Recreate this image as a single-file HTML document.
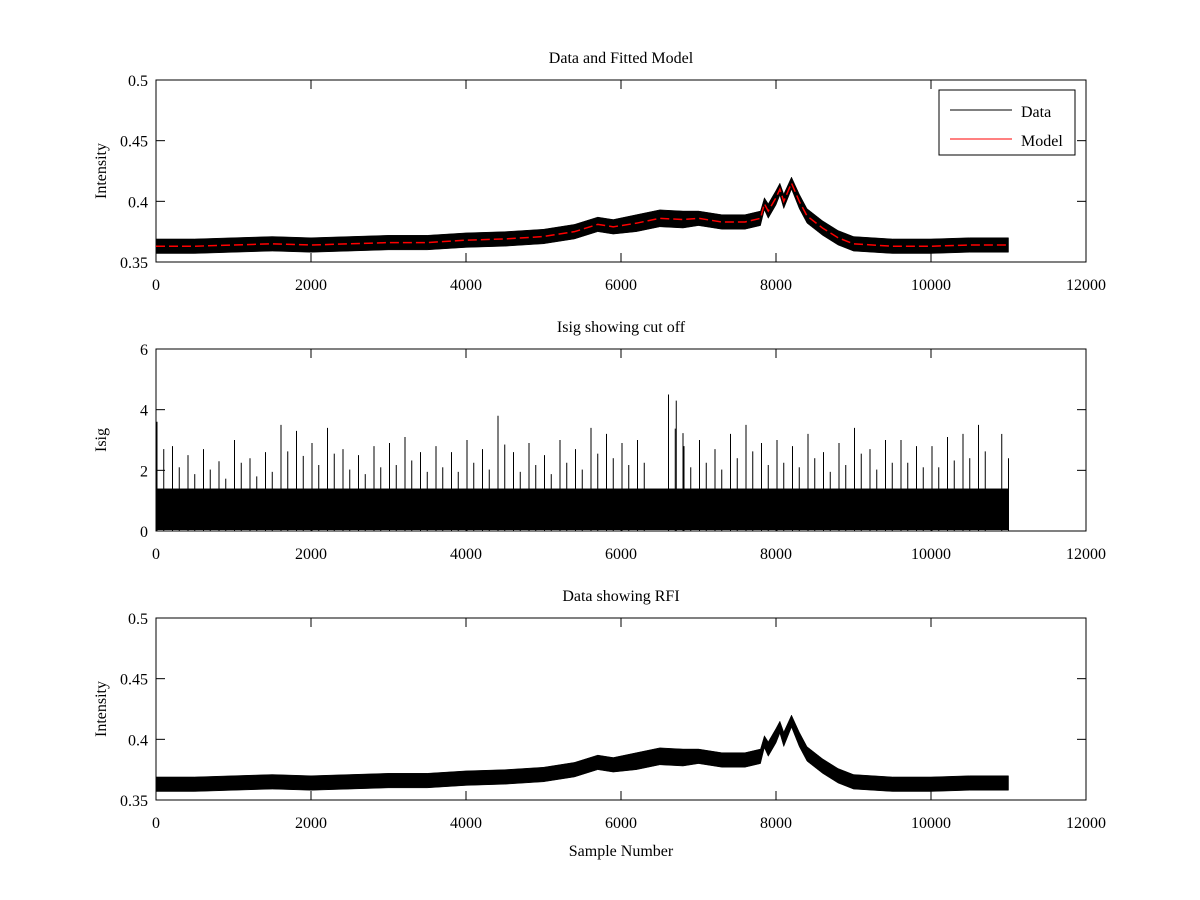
<!DOCTYPE html>
<html><head><meta charset="utf-8"><style>
html,body{margin:0;padding:0;background:#fff}
svg{display:block}
text{font-family:"Liberation Serif",serif;font-size:16px;fill:#000}
</style></head><body>
<svg id="fig" width="1200" height="900" viewBox="0 0 1200 900" xmlns="http://www.w3.org/2000/svg"></svg>
<script>
// ---- data ----
const sampleX = [0,500,1000,1500,2000,2500,3000,3500,4000,4500,5000,5400,5700,5900,6200,6500,6800,7000,7300,7600,7800,7850,7900,8000,8050,8100,8200,8300,8400,8600,8800,9000,9500,10000,10500,11000];
const modelY  = [.363,.363,.364,.365,.364,.365,.366,.366,.368,.369,.371,.375,.381,.379,.382,.386,.385,.386,.383,.383,.386,.398,.392,.403,.410,.400,.415,.400,.388,.378,.370,.365,.363,.363,.364,.364];
const noiseHalf = [.006,.006,.006,.006,.006,.006,.006,.006,.006,.006,.006,.006,.006,.006,.007,.007,.007,.006,.006,.006,.006,.005,.006,.006,.005,.006,.005,.006,.006,.006,.006,.006,.006,.006,.006,.006];
const isigBinX = [0,200,400,600,800,1000,1200,1400,1600,1800,2000,2200,2400,2600,2800,3000,3200,3400,3600,3800,4000,4200,4400,4600,4800,5000,5200,5400,5600,5800,6000,6200,6600,6700,6800,7000,7200,7400,7600,7800,8000,8200,8400,8600,8800,9000,9200,9400,9600,9800,10000,10200,10400,10600,10900];
const isigPeak = [3.6,2.8,2.5,2.7,2.3,3.0,2.4,2.6,3.5,3.3,2.9,3.4,2.7,2.5,2.8,2.9,3.1,2.6,2.8,2.6,3.0,2.7,3.8,2.6,2.9,2.5,3.0,2.7,3.4,3.2,2.9,3.0,4.5,4.3,2.8,3.0,2.7,3.2,3.5,2.9,3.0,2.8,3.2,2.6,2.9,3.4,2.7,3.0,3.0,2.8,2.8,3.1,3.2,3.5,3.2];
const isigBand = 1.4;
const xTicks = [0,2000,4000,6000,8000,10000,12000];
const intensityTicks = [0.35,0.4,0.45,0.5];
const intensityLabels = ["0.35","0.4","0.45","0.5"];
const isigTicks = [0,2,4,6];

const NS="http://www.w3.org/2000/svg", svg=document.getElementById('fig');
function mk(tag,attrs,parent){const e=document.createElementNS(NS,tag);for(const k in attrs)e.setAttribute(k,attrs[k]);(parent||svg).appendChild(e);return e;}
const X0=156,X1=1086;
const sx=v=>X0+(v/12000)*(X1-X0);

function axes(name,top,bot,ymin,ymax,yt,ylabels,title,ylabel,xlabel){
  const g=mk('g',{});
  
  
  const sy=v=>bot-(v-ymin)/(ymax-ymin)*(bot-top);
  const frame=mk('rect',{x:X0,y:top,width:X1-X0,height:bot-top,fill:'#fff',stroke:'#000','stroke-width':1},g);
  
  
  xTicks.forEach(t=>{const x=sx(t);
    mk('line',{x1:x,y1:bot,x2:x,y2:bot-9,stroke:'#000'},g);mk('line',{x1:x,y1:top,x2:x,y2:top+9,stroke:'#000'},g);
    const tx=mk('text',{x:x,y:bot+28,'text-anchor':'middle'},g);tx.textContent=t;
    
    });
  yt.forEach((t,i)=>{const y=sy(t);
    mk('line',{x1:X0,y1:y,x2:X0+9,y2:y,stroke:'#000'},g);mk('line',{x1:X1,y1:y,x2:X1-9,y2:y,stroke:'#000'},g);
    const tx=mk('text',{x:X0-8,y:y+6,'text-anchor':'end'},g);tx.textContent=ylabels[i];
    
    });
  const ti=mk('text',{x:(X0+X1)/2,y:top-17,'text-anchor':'middle'},g);ti.textContent=title;
  
  
  const yl=mk('text',{x:0,y:0,'text-anchor':'middle',transform:`translate(${X0-50},${(top+bot)/2}) rotate(-90)`},g);yl.textContent=ylabel;
  
  
  if(xlabel){const xl=mk('text',{x:(X0+X1)/2,y:bot+56,'text-anchor':'middle'},g);xl.textContent=xlabel;
    
    }
  return {g,sy};
}
function dataBand(ax,name){
  let up=sampleX.map((x,i)=>`${sx(x)},${ax.sy(modelY[i]+noiseHalf[i])}`);
  let lo=sampleX.map((x,i)=>`${sx(x)},${ax.sy(modelY[i]-noiseHalf[i])}`).reverse();
  const p=mk('polygon',{points:up.concat(lo).join(' '),fill:'#000',stroke:'#000','stroke-width':0.5},ax.g);
  
  
}
// Plot 1
const a1=axes('data-and-model-plot',80,262,0.35,0.5,intensityTicks,intensityLabels,'Data and Fitted Model','Intensity');
dataBand(a1,'data-series');
const ml=mk('polyline',{points:sampleX.map((x,i)=>`${sx(x)},${a1.sy(modelY[i])}`).join(' '),fill:'none',stroke:'#f00','stroke-width':1.5,'stroke-dasharray':'9,4'},a1.g);


const lg=mk('g',{},a1.g);


mk('rect',{x:939,y:90,width:136,height:65,fill:'#fff',stroke:'#000'},lg);
mk('line',{x1:950,y1:110,x2:1012,y2:110,stroke:'#000'},lg);
const l1=mk('text',{x:1021,y:117},lg);l1.textContent='Data';


mk('line',{x1:950,y1:139,x2:1012,y2:139,stroke:'#f00'},lg);
const l2=mk('text',{x:1021,y:146},lg);l2.textContent='Model';


// Plot 2
const a2=axes('isig-plot',349,531,0,6,isigTicks,isigTicks.map(String),'Isig showing cut off','Isig');
const band=mk('rect',{x:sx(0),y:a2.sy(isigBand),width:sx(11000)-sx(0),height:a2.sy(0)-a2.sy(isigBand)-1,fill:'#000'},a2.g);


isigBinX.forEach((x,i)=>{
  const l=mk('line',{x1:sx(x)+1,y1:a2.sy(0),x2:sx(x)+1,y2:a2.sy(isigPeak[i]),stroke:'#000','stroke-width':1},a2.g);
  
  
  const l2=mk('line',{x1:sx(x+100),y1:a2.sy(0),x2:sx(x+100),y2:a2.sy(isigPeak[i]*0.75),stroke:'#000','stroke-width':1},a2.g);
  
  
});
// Plot 3
const a3=axes('rfi-plot',618,800,0.35,0.5,intensityTicks,intensityLabels,'Data showing RFI','Intensity','Sample Number');
dataBand(a3,'rfi-data-series');
</script>
</body></html>
